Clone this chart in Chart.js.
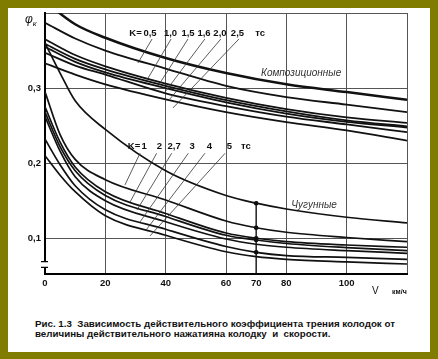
<!DOCTYPE html>
<html>
<head>
<meta charset="utf-8">
<script src="https://cdn.jsdelivr.net/npm/chart.js@4.4.1/dist/chart.umd.min.js"></script>
<style>
    html, body { margin: 0; padding: 0; }
    body { width: 438px; height: 359px; background: #807c00; position: relative; overflow: hidden; font-family: "Liberation Sans", Arial, sans-serif; }
    #panel { position: absolute; left: 8px; top: 8px; width: 422px; height: 344px; background: #fff; }
    #chart { position: absolute; left: 0; top: 0; }
    #phi { position: absolute; left: 25px; top: 12px; font: italic 12px "Liberation Sans", Arial, sans-serif; color: #111; }
    #phi sub { font-size: 8px; }
    #vunit { position: absolute; left: 372px; top: 280px; color: #111; white-space: pre; }
    #vunit .v { font: 10px "Liberation Sans", Arial, sans-serif; }
    #vunit .u { font: bold 7px "Liberation Sans", Arial, sans-serif; }
    #caption { position: absolute; left: 35px; top: 319px; font: bold 9.75px "Liberation Sans", Arial, sans-serif; line-height: 9.5px; white-space: pre; color: #111; }
</style>
</head>
<body>
<div id="panel"></div>
<canvas id="chart" width="438" height="300"></canvas>
<div id="phi">φ<sub>к</sub></div>
<div id="vunit"><span class="v">V</span>   <span class="u">км/ч</span></div>
<div id="caption">Рис. 1.3  Зависимость действительного коэффициента трения колодок от
величины действительного нажатияна колодку  и  скорости.</div>
<script>
// скорость, км/ч
const compXs = [0, 10, 20, 40, 60, 80, 100, 120];
const castXs = [0, 5, 10, 20, 40, 60, 70, 80, 100, 120];

// композиционные колодки
const comp0 = [0.415, 0.385, 0.367, 0.340, 0.320, 0.305, 0.2947, 0.2845];
const comp05 = [0.387, 0.366, 0.350, 0.326, 0.303, 0.288, 0.278, 0.268];
const comp10 = [0.365, 0.344, 0.329, 0.306, 0.287, 0.272, 0.261, 0.2536];
const comp15 = [0.359, 0.339, 0.325, 0.303, 0.284, 0.269, 0.257, 0.249];
const comp16 = [0.355, 0.335, 0.321, 0.300, 0.281, 0.266, 0.255, 0.2475];
const comp20 = [0.347, 0.330, 0.318, 0.293, 0.276, 0.262, 0.2516, 0.2413];
const comp25 = [0.333, 0.318, 0.305, 0.285, 0.268, 0.2547, 0.2437, 0.230];

// чугунные колодки
const cast0 = [0.36, 0.32, 0.283, 0.245, 0.19, 0.157, 0.1467, 0.139, 0.128, 0.1205];
const cast1 = [0.295, 0.238, 0.205, 0.178, 0.151, 0.123, 0.114, 0.108, 0.101, 0.0955];
const cast2 = [0.275, 0.228, 0.195, 0.162, 0.133, 0.107, 0.100, 0.0955, 0.091, 0.088];
const cast27 = [0.268, 0.222, 0.19, 0.157, 0.129, 0.104, 0.0977, 0.093, 0.0875, 0.0835];
const cast3 = [0.262, 0.216, 0.182, 0.150, 0.122, 0.099, 0.092, 0.088, 0.0835, 0.080];
const cast4 = [0.232, 0.198, 0.170, 0.138, 0.112, 0.089, 0.0813, 0.077, 0.0745, 0.072];
const cast5 = [0.21, 0.184, 0.162, 0.130, 0.104, 0.082, 0.0755, 0.072, 0.0685, 0.0657];

// точки при 70 км/ч
const dotX = 70;
const dotYs = [0.1467, 0.114, 0.100, 0.0977, 0.0813];

const xTicks = [0, 20, 40, 60, 70, 80, 100, 120];
const yTicks = [0.1, 0.2, 0.3, 0.4];
const yMin = 0.0524;
const yMax = 0.4;
const breakHi = 0.0688;
const breakLo = 0.0613;

// подписи K
const compKeys = ['K=', '0,5', '1,0', '1,5', '1,6', '2,0', '2,5', 'тс'];
const compKeyXs = [30.0, 34.8, 41.6, 47.4, 52.7, 58.0, 63.8, 71.3];
const compKeyY = 0.373;
const compLeadFrom = [[35.5, 0.3654], [41.8, 0.3654], [47.4, 0.3654], [53.0, 0.3654], [58.3, 0.3654], [64.3, 0.3654]];
const compLeadTo = [[30.8, 0.3334], [33.8, 0.3108], [37.5, 0.3028], [39.8, 0.2948], [41.4, 0.2855], [42.4, 0.2735]];

const castKeys = ['K=', '1', '2', '2,7', '3', '4', '5', 'тс'];
const castKeyXs = [29.5, 32.9, 37.9, 42.8, 48.8, 54.5, 61.1, 66.6];
const castKeyY = 0.222;
const castLeadFrom = [[31.5, 0.2132], [37.0, 0.2132], [42.0, 0.2132], [47.5, 0.2132], [53.0, 0.2132], [59.7, 0.2132]];
const castLeadTo = [[26.5, 0.1710], [28.2, 0.1483], [30.5, 0.1377], [31.5, 0.1217], [33.5, 0.1110], [34.8, 0.1031]];

const groupNames = [['Композиционные', 84.9, 0.3201], ['Чугунные', 89.2, 0.1443]];

const tickFont = { family: '"Liberation Sans", Arial, sans-serif', size: 9.5, weight: 'bold' };

function curve(xs, ys, w) {
    return {
        data: xs.map((x, i) => ({ x: x, y: ys[i] })),
        borderColor: '#111',
        borderWidth: w,
        pointRadius: 0,
        fill: false,
        cubicInterpolationMode: 'monotone'
    };
}

const datasets = [
    curve(compXs, comp0, 2.5),
    curve(compXs, comp05, 1.8),
    curve(compXs, comp10, 1.8),
    curve(compXs, comp15, 1.8),
    curve(compXs, comp16, 1.8),
    curve(compXs, comp20, 1.8),
    curve(compXs, comp25, 1.8),
    curve(castXs, cast0, 1.7),
    curve(castXs, cast1, 1.7),
    curve(castXs, cast2, 1.7),
    curve(castXs, cast27, 1.7),
    curve(castXs, cast3, 1.7),
    curve(castXs, cast4, 1.7),
    curve(castXs, cast5, 1.7),
    {
        data: [{ x: dotX, y: dotYs[0] }, { x: dotX, y: yMin }],
        borderColor: '#111',
        borderWidth: 1.4,
        pointRadius: 0
    },
    {
        type: 'scatter',
        data: dotYs.map(y => ({ x: dotX, y: y })),
        pointRadius: 2.3,
        pointBackgroundColor: '#000',
        pointBorderWidth: 0,
        showLine: false
    }
];

const annotate = {
    id: 'annotate',
    afterDatasetsDraw(chart) {
        const { ctx, chartArea } = chart;
        const sx = chart.scales.x, sy = chart.scales.y;
        ctx.save();

        // разрыв оси
        const xa = chartArea.left;
        const b1 = sy.getPixelForValue(breakHi), b2 = sy.getPixelForValue(breakLo);
        ctx.fillStyle = '#fff';
        ctx.fillRect(xa - 2, b1, 4, b2 - b1);
        ctx.strokeStyle = '#000';
        ctx.lineWidth = 1.2;
        ctx.beginPath();
        ctx.moveTo(xa - 4, b1); ctx.lineTo(xa + 3, b1);
        ctx.moveTo(xa - 4, b2); ctx.lineTo(xa + 3, b2);
        ctx.stroke();

        // выноски
        ctx.strokeStyle = '#333';
        ctx.lineWidth = 0.8;
        ctx.beginPath();
        [[compLeadFrom, compLeadTo], [castLeadFrom, castLeadTo]].forEach(([from, to]) => {
            from.forEach((p, i) => {
                ctx.moveTo(sx.getPixelForValue(p[0]), sy.getPixelForValue(p[1]));
                ctx.lineTo(sx.getPixelForValue(to[i][0]), sy.getPixelForValue(to[i][1]));
            });
        });
        ctx.stroke();

        ctx.fillStyle = '#111';
        ctx.textAlign = 'center';
        ctx.textBaseline = 'middle';
        ctx.font = 'bold 9.5px "Liberation Sans", Arial, sans-serif';
        compKeys.forEach((t, i) => ctx.fillText(t, sx.getPixelForValue(compKeyXs[i]), sy.getPixelForValue(compKeyY)));
        castKeys.forEach((t, i) => ctx.fillText(t, sx.getPixelForValue(castKeyXs[i]), sy.getPixelForValue(castKeyY)));

        ctx.fillStyle = '#333';
        ctx.font = 'italic 10px "Liberation Sans", Arial, sans-serif';
        groupNames.forEach(([t, x, y]) => ctx.fillText(t, sx.getPixelForValue(x), sy.getPixelForValue(y)));

        ctx.restore();
    }
};

new Chart(document.getElementById('chart'), {
    type: 'line',
    data: { datasets: datasets },
    options: {
        responsive: false,
        animation: false,
        events: [],
        layout: { padding: { top: 13, right: 31, left: 0, bottom: 0 } },
        plugins: { legend: { display: false }, tooltip: { enabled: false } },
        scales: {
            x: {
                type: 'linear',
                min: 0,
                max: 120,
                afterBuildTicks: s => { s.ticks = xTicks.map(v => ({ value: v })); },
                afterFit: s => { s.height = 26; },
                grid: {
                    color: c => (c.tick && c.tick.value === 70) ? 'rgba(0,0,0,0)' : '#555',
                    lineWidth: 1,
                    drawTicks: false
                },
                border: { color: '#000', width: 2 },
                ticks: {
                    padding: 4,
                    color: '#111',
                    font: tickFont,
                    autoSkip: false,
                    maxRotation: 0,
                    callback: v => v === 120 ? '' : String(v)
                }
            },
            y: {
                type: 'linear',
                min: yMin,
                max: yMax,
                afterBuildTicks: s => { s.ticks = yTicks.map(v => ({ value: v })); },
                afterFit: s => { s.width = 45; },
                grid: { color: '#555', lineWidth: 1, drawTicks: false },
                border: { color: '#000', width: 2 },
                ticks: {
                    padding: 4,
                    color: '#111',
                    font: tickFont,
                    callback: v => v >= 0.35 ? '' : v.toFixed(1).replace('.', ',')
                }
            }
        }
    },
    plugins: [annotate]
});
</script>
</body>
</html>
